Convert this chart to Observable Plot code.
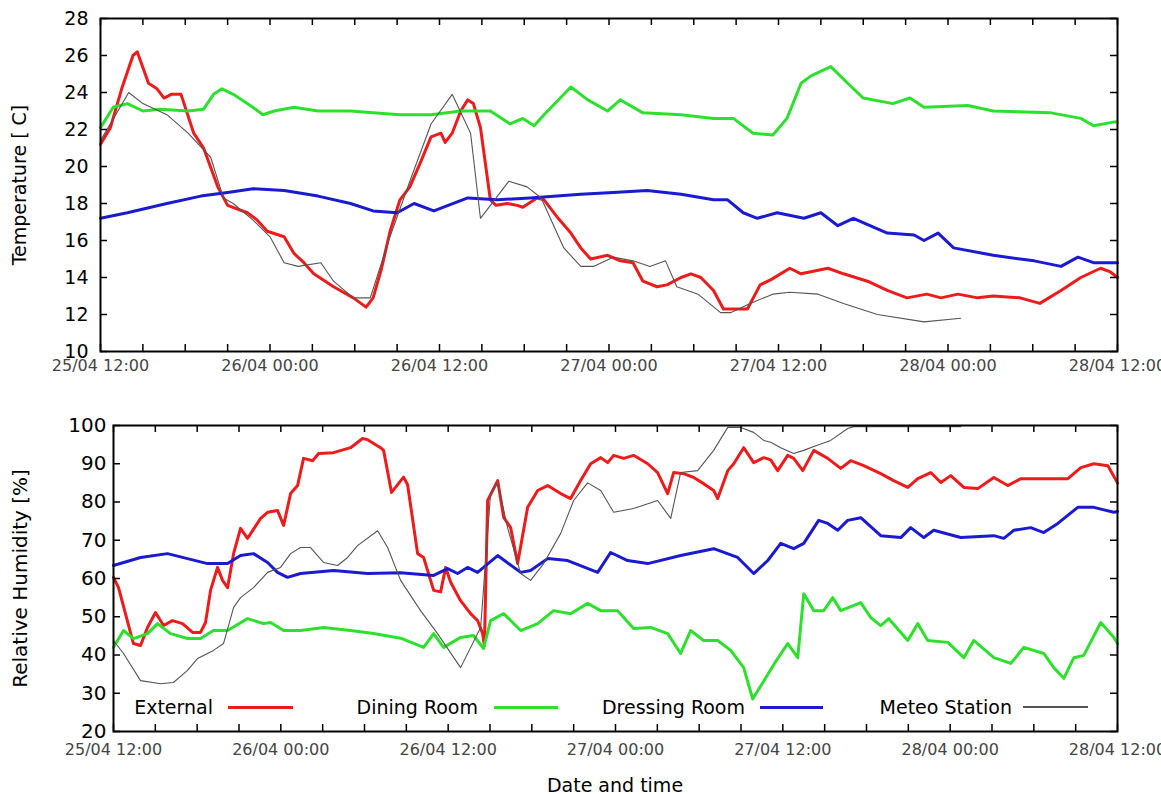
<!DOCTYPE html>
<html><head><meta charset="utf-8">
<script src="https://cdn.jsdelivr.net/npm/d3@7"></script>
<script src="https://cdn.jsdelivr.net/npm/@observablehq/plot@0.6"></script>
<style>
html,body{margin:0;padding:0;background:#fff;overflow:hidden;}
#wrap{position:relative;width:1161px;height:794px;font-family:"DejaVu Sans",sans-serif;}
#top{position:absolute;left:0;top:0;}
#bottom{position:absolute;left:0;top:396px;}
.lg-text{position:absolute;font-size:19px;line-height:22px;top:696px;white-space:nowrap;text-align:right;color:#000;}
.lg-line{position:absolute;}
#xtitle{position:absolute;left:415px;width:400px;text-align:center;top:774px;font-size:19px;line-height:22px;color:#000;}
</style></head><body>
<div id="wrap"><div id="top"></div><div id="bottom"></div><div id="legend"></div><div id="xtitle"></div></div>
<script>
// ---- data: [hours since 25/04 12:00, value] ----
const tempExternal = [[0,21.2],[0.7,22.1],[1.5,24.2],[2.3,26.0],[2.6,26.2],[3.4,24.5],[4.0,24.2],[4.5,23.7],[5.0,23.9],[5.7,23.9],[6.6,21.8],[7.3,21.0],[8.3,18.9],[9.0,17.9],[10.4,17.5],[11.1,17.1],[11.8,16.5],[13.0,16.2],[13.7,15.3],[14.4,14.8],[15.1,14.2],[16.5,13.5],[17.9,12.9],[18.8,12.4],[19.3,12.9],[19.9,14.5],[20.5,16.5],[21.2,18.2],[21.9,18.9],[22.7,20.3],[23.4,21.6],[24.1,21.8],[24.4,21.3],[24.9,21.8],[25.5,23.0],[26.0,23.6],[26.4,23.4],[26.9,22.1],[27.6,18.2],[28.0,17.9],[28.8,18.0],[29.5,17.9],[29.9,17.8],[30.9,18.3],[31.4,18.2],[32.4,17.2],[33.3,16.4],[34.0,15.6],[34.7,15.0],[35.9,15.2],[36.8,14.9],[37.7,14.8],[38.4,13.8],[39.4,13.5],[40.1,13.6],[41.1,14.0],[41.8,14.2],[42.5,14.0],[43.4,13.3],[44.1,12.3],[44.8,12.3],[45.8,12.3],[46.7,13.6],[47.5,13.9],[48.8,14.5],[49.6,14.2],[51.5,14.5],[52.6,14.2],[54.3,13.8],[55.7,13.3],[57.1,12.9],[58.5,13.1],[59.5,12.9],[60.7,13.1],[62.1,12.9],[63.2,13.0],[65.1,12.9],[66.5,12.6],[68.0,13.3],[69.4,14.0],[70.8,14.5],[71.5,14.3],[72,14.0]];
const tempDining = [[0,22.1],[0.9,23.2],[1.9,23.4],[3.0,23.0],[4.2,23.1],[6.2,23.0],[7.3,23.1],[8.0,23.9],[8.6,24.2],[9.4,23.9],[10.6,23.3],[11.5,22.8],[12.3,23.0],[13.7,23.2],[15.4,23.0],[17.7,23.0],[19.3,22.9],[21.2,22.8],[23.4,22.8],[25.5,23.0],[27.6,23.0],[29.0,22.3],[29.9,22.6],[30.7,22.2],[31.4,22.8],[33.3,24.3],[34.5,23.6],[35.9,23.0],[36.8,23.6],[38.4,22.9],[41.1,22.8],[43.4,22.6],[44.8,22.6],[46.2,21.8],[47.6,21.7],[48.6,22.6],[49.6,24.5],[50.3,24.9],[51.7,25.4],[52.9,24.5],[54.0,23.7],[56.1,23.4],[57.3,23.7],[58.3,23.2],[61.4,23.3],[63.2,23.0],[67.3,22.9],[69.4,22.6],[70.3,22.2],[71.7,22.4],[72,22.4]];
const tempDressing = [[0,17.2],[1.9,17.5],[4.7,18.0],[7.1,18.4],[9.0,18.6],[10.8,18.8],[13.0,18.7],[15.4,18.4],[17.7,18.0],[19.3,17.6],[21.0,17.5],[22.2,18.0],[23.6,17.6],[26.0,18.3],[28.1,18.2],[30.4,18.3],[34.0,18.5],[36.3,18.6],[38.7,18.7],[41.1,18.5],[43.4,18.2],[44.4,18.2],[45.5,17.5],[46.5,17.2],[47.9,17.5],[49.8,17.2],[51.0,17.5],[52.2,16.8],[53.3,17.2],[55.7,16.4],[57.6,16.3],[58.3,16.0],[59.3,16.4],[60.4,15.6],[63.2,15.2],[66.1,14.9],[68.0,14.6],[69.2,15.1],[70.3,14.8],[72,14.8]];
const tempMeteo = [[0,21.4],[2.0,24.0],[3.0,23.4],[4.7,22.8],[6.2,21.8],[7.8,20.5],[8.7,18.3],[9.4,18.0],[10.8,17.1],[12.0,16.2],[13.0,14.8],[14.0,14.6],[15.6,14.8],[16.5,13.8],[17.9,12.9],[19.1,12.9],[20.4,16.0],[21.9,19.2],[23.4,22.3],[24.9,23.9],[26.2,21.8],[26.9,17.2],[28.9,19.2],[30.2,18.9],[31.2,18.3],[32.8,15.6],[34.0,14.6],[34.9,14.6],[36.3,15.1],[37.7,14.9],[38.9,14.6],[40.0,14.9],[40.8,13.5],[42.3,13.1],[43.9,12.1],[44.6,12.1],[46.0,12.6],[47.6,13.1],[48.8,13.2],[50.8,13.1],[52.6,12.6],[55.0,12.0],[58.3,11.6],[60.9,11.8]];

const rhExternal = [[0,60.3],[0.36,57.6],[1.43,43.0],[1.94,42.5],[2.44,47.2],[3.01,51.1],[3.59,47.7],[4.23,49.0],[4.95,48.2],[5.67,45.9],[6.24,45.9],[6.6,48.5],[6.96,56.9],[7.46,62.9],[7.82,59.5],[8.18,57.6],[8.61,66.5],[9.11,73.1],[9.61,70.5],[10.55,75.7],[11.05,77.3],[11.76,77.8],[12.2,73.9],[12.7,82.2],[13.2,84.3],[13.63,91.4],[14.28,90.8],[14.71,92.7],[15.78,92.9],[17.0,94.2],[17.86,96.6],[18.22,96.3],[19.15,94.2],[19.37,93.5],[19.94,82.5],[20.8,86.5],[21.09,84.5],[21.81,66.5],[22.24,65.5],[22.96,56.9],[23.46,56.5],[23.82,62.9],[24.18,59],[24.89,54.2],[25.61,50.8],[26.11,49],[26.47,45.6],[26.6,42.5],[26.83,80.4],[27.55,85.6],[27.98,76],[28.48,73.3],[28.98,63.9],[29.7,78.6],[30.42,83],[31.13,84.3],[32.07,82.2],[32.78,80.9],[33.5,85.6],[34.22,90],[34.94,91.6],[35.44,90.3],[35.87,92.2],[36.59,91.4],[37.3,92.2],[38.31,90],[39.02,87.7],[39.74,82.2],[40.17,87.7],[40.89,87.4],[41.61,86.4],[42.32,84.8],[43.04,83],[43.33,80.9],[44.05,88.2],[44.48,90],[45.19,94.2],[45.91,90.3],[46.63,91.6],[47.13,91],[47.63,88.2],[48.35,92.2],[48.78,91.4],[49.43,88.2],[50.22,93.5],[51.22,91.4],[52.15,88.8],[52.87,90.8],[53.8,89.5],[55.02,87.4],[55.95,85.6],[56.96,83.8],[57.68,86.1],[58.61,87.7],[59.33,85.1],[60.04,86.9],[60.98,83.8],[61.98,83.5],[63.13,86.4],[64.13,84.3],[65.07,86.1],[66.71,86.1],[68.44,86.1],[69.37,89],[70.3,90],[71.31,89.5],[72,85]];
const rhDining = [[0,42],[0.72,46.4],[1.43,44.3],[2.44,45.6],[3.16,48.2],[4.09,45.6],[5.31,44.3],[6.24,44.3],[7.17,46.4],[8.18,46.4],[9.61,49.5],[10.76,48.2],[11.26,48.5],[12.2,46.4],[13.41,46.4],[15.06,47.2],[17.0,46.4],[18.65,45.6],[20.59,44.4],[22.24,42],[22.96,45.6],[23.67,42],[24.89,44.6],[25.82,45.1],[26.54,41.7],[27.04,49],[27.98,50.8],[29.2,46.4],[30.42,48.2],[31.56,51.6],[32.78,50.8],[34.0,53.5],[34.94,51.6],[36.15,51.6],[37.3,46.9],[38.52,47.2],[39.74,45.6],[40.67,40.4],[41.39,46.4],[42.32,43.8],[43.33,43.8],[44.26,41.2],[45.19,36.7],[45.84,28.5],[46.6,33],[47.4,37.8],[48.35,43],[49.07,39.3],[49.5,56],[50.22,51.6],[50.93,51.6],[51.58,55],[52.15,51.6],[53.59,53.7],[54.3,49.8],[55.02,47.7],[55.6,49.5],[56.96,43.8],[57.68,48.2],[58.39,43.8],[59.83,43.3],[60.98,39.3],[61.69,43.8],[63.13,39.3],[64.35,37.8],[65.28,42],[66.71,40.4],[67.43,36.7],[68.15,33.9],[68.87,39.3],[69.58,39.9],[70.8,48.5],[71.74,44.6],[72,43]];
const rhDressing = [[0,63.4],[1.94,65.5],[3.87,66.5],[5.31,65.2],[6.74,63.9],[8.18,63.9],[9.11,66],[10.04,66.5],[11.05,64.2],[11.76,61.6],[12.48,60.3],[13.41,61.3],[15.78,62.1],[18.22,61.3],[20.59,61.5],[22.96,60.8],[23.96,62.6],[24.68,61.3],[25.39,62.9],[26.11,61.6],[27.55,66],[29.2,61.6],[29.91,62.1],[31.13,65.2],[32.57,64.7],[34.72,61.6],[35.65,66.8],[36.87,64.7],[38.31,63.9],[40.67,66],[43.04,67.8],[44.76,65.5],[45.91,61.3],[46.92,64.7],[47.85,69.2],[48.78,67.8],[49.5,69.2],[50.57,75.2],[51.22,74.4],[51.94,72.6],[52.65,75.2],[53.59,75.9],[55.02,71.2],[56.46,70.7],[57.17,73.3],[58.11,70.7],[58.82,72.6],[60.76,70.7],[63.13,71.2],[63.85,70.5],[64.56,72.6],[65.78,73.3],[66.71,72],[67.72,74.4],[69.15,78.6],[70.3,78.6],[71.74,77.3],[72,77.5]];
const rhMeteo = [[0,43.8],[0.72,40.4],[1.94,33.3],[3.37,32.5],[4.3,32.8],[5.31,36],[6.03,39.1],[7.17,41.2],[7.89,43],[8.61,52.4],[9.11,55],[10.04,57.6],[11.05,61.6],[11.98,62.9],[12.7,66.5],[13.41,68.1],[14.13,68.1],[15.06,64.2],[16.07,63.4],[16.79,65.5],[17.5,68.6],[18.94,72.5],[19.66,68.1],[20.59,59.5],[22.02,51.6],[23.24,45.6],[24.89,36.7],[26.33,47.2],[27.04,82.2],[27.55,85],[28.26,73.3],[29.2,61.3],[29.91,59.5],[30.85,63.9],[32.07,71.8],[33.0,80.4],[34.0,85],[34.94,83],[35.87,77.3],[37.3,78.3],[39.02,80.4],[39.96,75.7],[40.67,87.7],[41.89,88.2],[43.04,93.5],[44.05,99.5],[44.98,99.5],[45.91,98.2],[46.63,96.1],[47.13,95.6],[47.85,94.2],[48.78,92.7],[49.5,93.5],[50.22,94.5],[51.43,96.1],[52.65,99.2],[53.08,99.7],[60.76,99.7]];

const tempTicks = [10,12,14,16,18,20,22,24,26,28];
const rhTicks = [20,30,40,50,60,70,80,90,100];
const labelHours = [0,12,24,36,48,60,72];
const minorHours = [0,3,6,9,12,15,18,21,24,27,30,33,36,39,42,45,48,51,54,57,60,63,66,69,72];
const seriesNames = ["External","Dining Room","Dressing Room","Meteo Station"];
const seriesColors = ["#ee1b1b","#2ee02e","#1a1ad0","#555555"];
const xTitle = "Date and time";

// ---- helpers ----
const base = Date.UTC(2013, 3, 25, 12);
const toDate = h => new Date(base + h * 3600e3);
const fmt = d3.utcFormat("%d/%m %H:%M");
const labelTimes = labelHours.map(toDate);
const minorTimes = minorHours.map(toDate);

function panel(o) {
  const plotW = 1161 - o.marginLeft - o.marginRight;
  const plotH = o.height - o.marginTop - o.marginBottom;
  const widths = [3, 3, 3, 1.1];
  return Plot.plot({
    width: 1161, height: o.height,
    marginLeft: o.marginLeft, marginRight: o.marginRight, marginTop: o.marginTop, marginBottom: o.marginBottom,
    style: {fontFamily: '"DejaVu Sans", sans-serif', fontSize: "19px", background: "transparent", overflow: "visible", color: "#000"},
    x: {type: "utc", domain: [toDate(0), toDate(72)]},
    y: {domain: o.yDomain},
    marks: [
      Plot.axisY(o.yTicks, {tickSize: 0, tickPadding: o.yPad, fontSize: o.yFont, label: o.yLabel, labelAnchor: "center", labelOffset: o.yLabelOffset, labelArrow: "none"}),
      Plot.axisX(labelTimes, {tickSize: 0, tickPadding: o.xPad, tickFormat: fmt, fontSize: 16, color: "#444", label: null}),
      ...o.series.map((s, i) => Plot.line(s, {x: d => toDate(d[0]), y: d => d[1], stroke: seriesColors[i], strokeWidth: widths[i], strokeLinejoin: "round"})),
      Plot.tickX(minorTimes, {x: d => d, stroke: "#000", strokeWidth: 1.5, insetTop: plotH - 7}),
      Plot.tickX(minorTimes, {x: d => d, stroke: "#000", strokeWidth: 1.5, insetBottom: plotH - 7}),
      Plot.tickY(o.yTicks, {y: d => d, stroke: "#000", strokeWidth: 1.5, insetRight: plotW - 7}),
      Plot.tickY(o.yTicks, {y: d => d, stroke: "#000", strokeWidth: 1.5, insetLeft: plotW - 7}),
      Plot.frame({stroke: "#000", strokeWidth: 2})
    ]
  });
}

document.getElementById("top").append(panel({
  series: [tempExternal, tempDining, tempDressing, tempMeteo],
  yDomain: [10, 28], yTicks: tempTicks, yLabel: "Temperature [ C]", yLabelOffset: 88, yPad: 12, yFont: 19,
  xPad: 8,
  height: 396, marginLeft: 100, marginRight: 44, marginTop: 18, marginBottom: 45
}));

document.getElementById("bottom").append(panel({
  series: [rhExternal, rhDining, rhDressing, rhMeteo],
  yDomain: [20, 100], yTicks: rhTicks, yLabel: "Relative Humidity [%]", yLabelOffset: 101, yPad: 7, yFont: 20,
  xPad: 12,
  height: 398, marginLeft: 113, marginRight: 44, marginTop: 29, marginBottom: 63
}));

document.getElementById("xtitle").textContent = xTitle;

// ---- legend (inside lower panel, gnuplot style) ----
const textRight = [213, 478, 745, 1012];
const lineSpan = [[228, 293], [494, 558], [760, 823], [1023, 1088]];
const lg = document.getElementById("legend");
seriesNames.forEach((name, i) => {
  const t = document.createElement("div");
  t.className = "lg-text";
  t.textContent = name;
  t.style.right = (1161 - textRight[i]) + "px";
  lg.append(t);
  const l = document.createElement("div");
  l.className = "lg-line";
  const w = i === 3 ? 1.2 : 3;
  l.style.left = lineSpan[i][0] + "px";
  l.style.width = (lineSpan[i][1] - lineSpan[i][0]) + "px";
  l.style.top = (707 - w / 2) + "px";
  l.style.height = w + "px";
  l.style.background = seriesColors[i];
  lg.append(l);
});
</script>
</body></html>
